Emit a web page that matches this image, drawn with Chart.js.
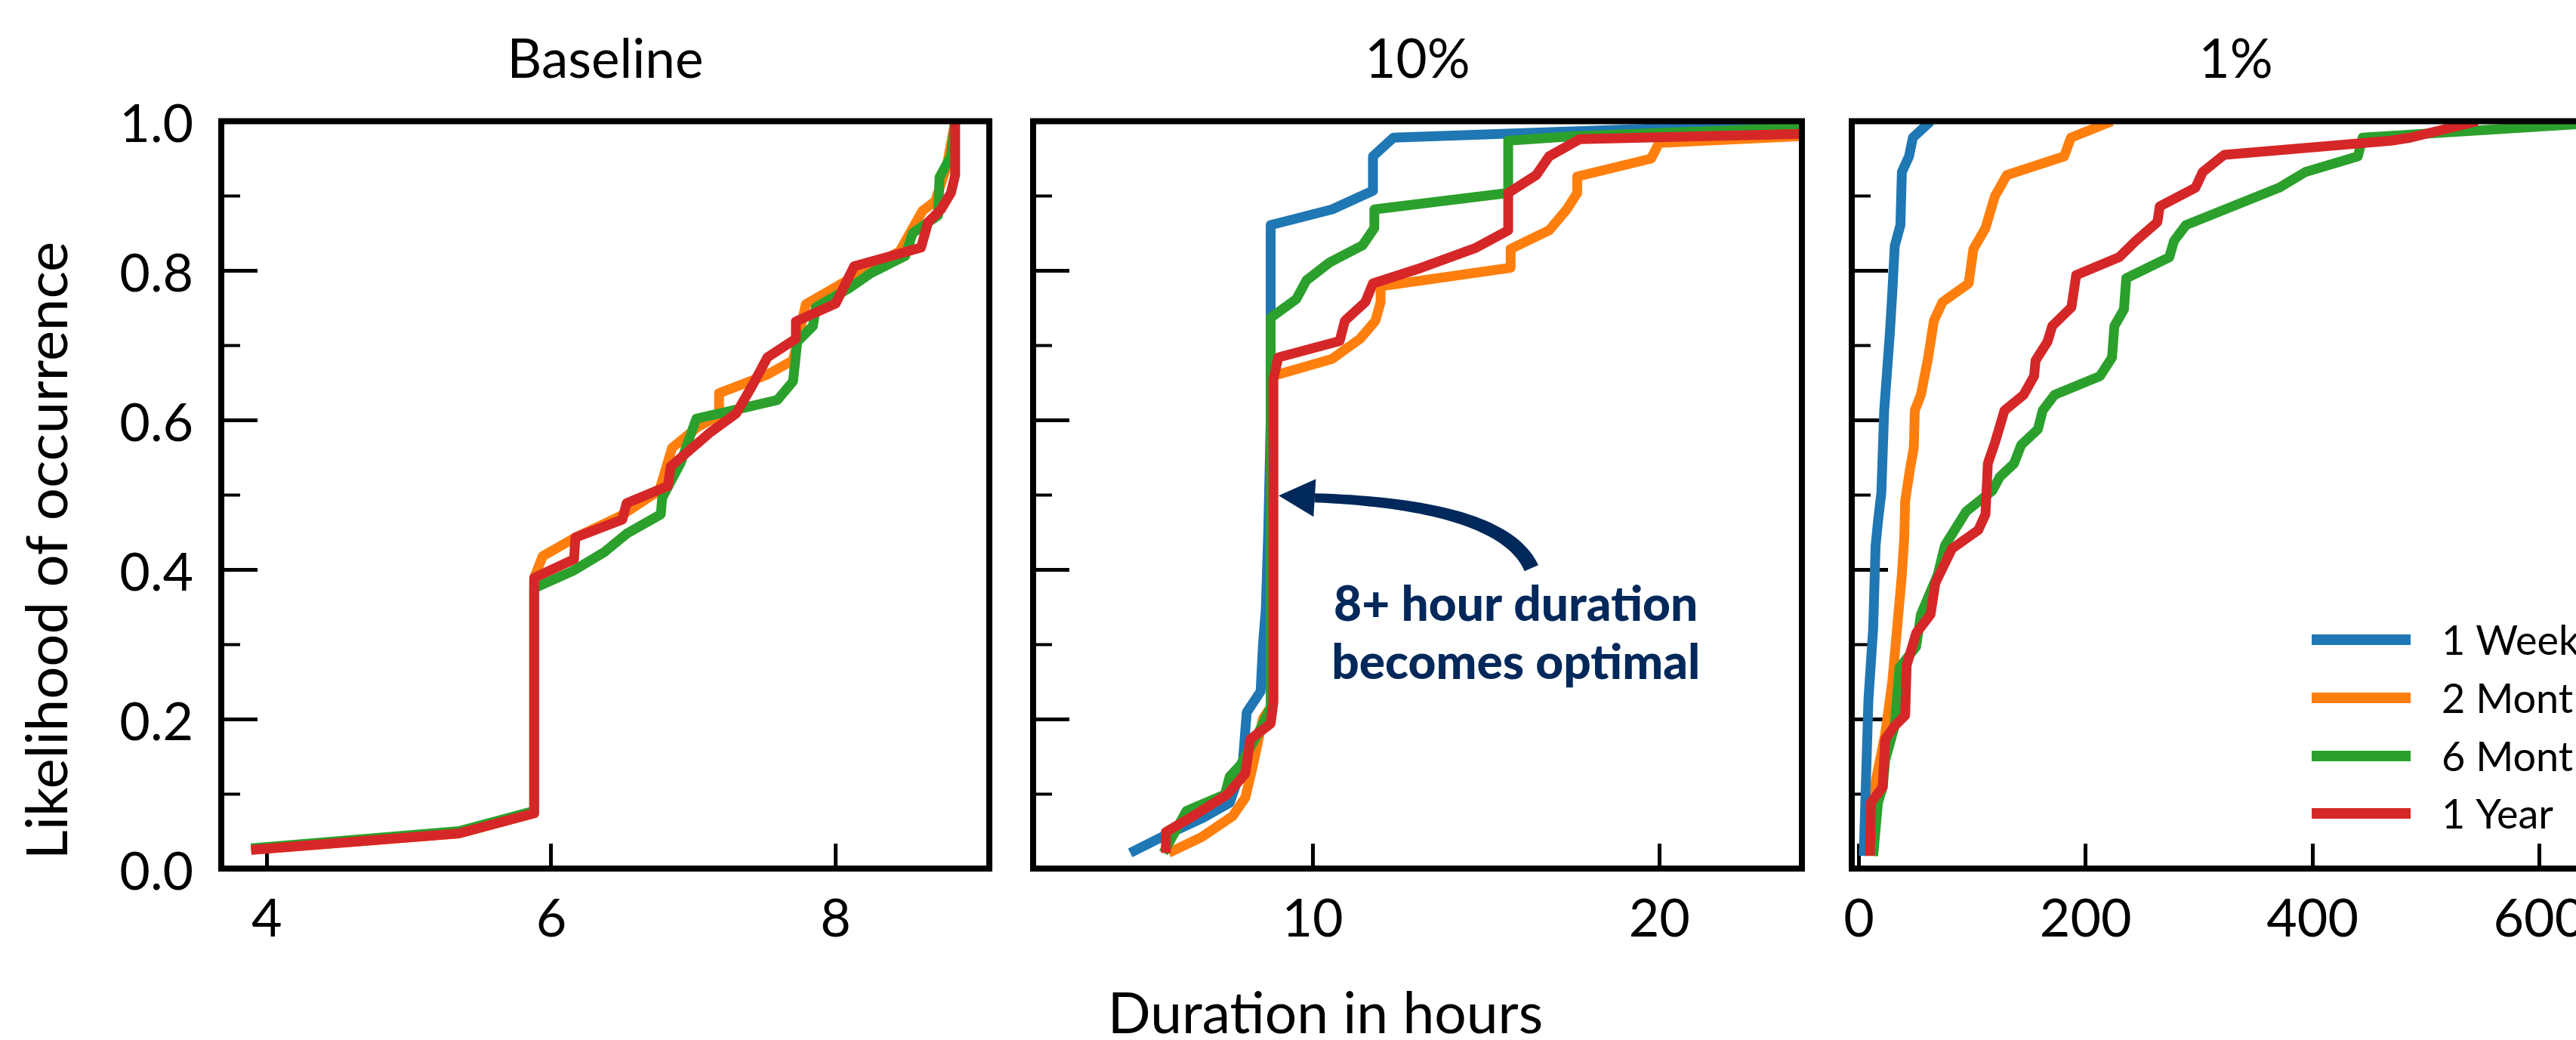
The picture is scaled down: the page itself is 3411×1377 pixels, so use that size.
<!DOCTYPE html>
<html><head><meta charset="utf-8">
<script src="https://cdn.jsdelivr.net/npm/chart.js@4.4.1/dist/chart.umd.min.js"></script>
<style>
html,body{margin:0;padding:0;background:#fff;overflow:hidden;width:3411px;height:1377px;}
canvas{position:absolute;left:0;top:0;}
</style></head><body>
<canvas id="c1" width="3500" height="1377"></canvas>
<canvas id="c2" width="3500" height="1377"></canvas>
<canvas id="c3" width="3500" height="1377"></canvas>
<script>
// ---------------- data ----------------
const seriesNames = ['1 Week', '2 Months', '6 Months', '1 Year'];
const panelTitles = ['Baseline', '10%', '1%'];
const yMajorTicks = [0, 0.2, 0.4, 0.6, 0.8, 1.0];
const yMinorTicks = [0, 0.1, 0.2, 0.3, 0.4, 0.5, 0.6, 0.7, 0.8, 0.9, 1.0];
const xTicksBaseline = [4, 6, 8];
const xTicks10 = [10, 20];
const xTicks1 = [0, 200, 400, 600];

// Baseline panel  [hours, likelihood]
const baseWeek = [];
const baseTwoMonths = [[3.89,0.025],[5.35,0.047],[5.88,0.074],[5.88,0.389],[5.94,0.418],[6.17,0.443],[6.48,0.471],[6.76,0.506],[6.85,0.563],[7.03,0.591],[7.18,0.606],[7.18,0.636],[7.52,0.661],[7.70,0.680],[7.79,0.755],[8.08,0.787],[8.45,0.826],[8.61,0.880],[8.70,0.893],[8.78,0.939],[8.84,1.0]];
const baseSixMonths = [[3.89,0.027],[5.35,0.050],[5.88,0.077],[5.88,0.375],[6.15,0.398],[6.37,0.423],[6.53,0.448],[6.77,0.474],[6.78,0.496],[6.91,0.543],[7.02,0.602],[7.30,0.614],[7.59,0.627],[7.70,0.652],[7.73,0.705],[7.84,0.726],[7.86,0.751],[8.09,0.776],[8.25,0.797],[8.49,0.820],[8.54,0.850],[8.72,0.874],[8.73,0.925],[8.81,0.953],[8.84,1.0]];
const baseYear = [[3.89,0.025],[5.35,0.047],[5.88,0.074],[5.88,0.389],[6.16,0.414],[6.17,0.443],[6.50,0.467],[6.53,0.489],[6.82,0.512],[6.84,0.538],[7.12,0.584],[7.30,0.609],[7.41,0.645],[7.52,0.684],[7.72,0.709],[7.72,0.732],[8.00,0.756],[8.13,0.806],[8.36,0.818],[8.60,0.831],[8.65,0.865],[8.74,0.882],[8.81,0.904],[8.84,0.928],[8.84,1.0]];

// 10% panel
const tenWeek = [[4.74,0.021],[5.77,0.045],[6.80,0.067],[7.61,0.088],[7.98,0.138],[8.10,0.209],[8.50,0.237],[8.57,0.301],[8.65,0.347],[8.72,0.45],[8.79,0.60],[8.79,0.861],[10.56,0.882],[11.74,0.907],[11.74,0.953],[12.33,0.978],[23.4,0.996],[25,1.0]];
const tenTwoMonths = [[5.85,0.021],[6.80,0.042],[7.69,0.070],[8.06,0.095],[8.28,0.138],[8.57,0.201],[8.84,0.219],[8.84,0.659],[10.56,0.682],[11.37,0.709],[11.81,0.733],[11.96,0.758],[11.96,0.779],[15.71,0.804],[15.71,0.829],[16.82,0.854],[17.33,0.882],[17.63,0.904],[17.63,0.926],[19.76,0.950],[19.99,0.971],[25,0.982]];
const tenSixMonths = [[5.70,0.021],[6.36,0.077],[7.47,0.099],[7.61,0.123],[7.91,0.138],[8.42,0.180],[8.79,0.216],[8.79,0.737],[9.53,0.762],[9.82,0.787],[10.49,0.811],[11.44,0.834],[11.78,0.857],[11.78,0.882],[15.64,0.904],[15.64,0.974],[17.55,0.980],[25,0.993]];
const tenYear = [[5.77,0.021],[5.77,0.049],[6.44,0.067],[7.54,0.099],[8.06,0.127],[8.20,0.173],[8.79,0.194],[8.87,0.223],[8.87,0.655],[9.01,0.684],[10.78,0.706],[10.93,0.733],[11.52,0.758],[11.74,0.783],[13.14,0.804],[14.68,0.830],[15.64,0.854],[15.64,0.904],[16.45,0.928],[16.82,0.953],[17.70,0.976],[25,0.984]];

// 1% panel
const oneWeek = [[4.2,0.017],[8.4,0.226],[12.6,0.322],[14.7,0.432],[16.8,0.464],[19.8,0.503],[22.3,0.613],[27.4,0.719],[29.5,0.772],[31.6,0.833],[36.6,0.861],[37.9,0.932],[44.2,0.953],[47.6,0.978],[63.2,1.0]];
const oneTwoMonths = [[12.6,0.017],[14.7,0.116],[23.2,0.180],[29.5,0.251],[33.7,0.322],[37.9,0.393],[40.0,0.443],[40.8,0.492],[45.1,0.535],[48.4,0.563],[49.3,0.613],[54.7,0.634],[61.1,0.684],[66.1,0.733],[73.7,0.758],[96.8,0.783],[101,0.829],[111.6,0.857],[120,0.900],[130.5,0.928],[181,0.953],[187,0.978],[223,1.0]];
const oneSixMonths = [[12.6,0.017],[16.8,0.088],[21,0.109],[23.2,0.145],[31.6,0.191],[35.8,0.269],[50.5,0.297],[54.7,0.340],[69.5,0.393],[75.8,0.432],[94.7,0.478],[117.9,0.506],[124.2,0.524],[136.8,0.542],[143.2,0.567],[157.9,0.588],[162.1,0.613],[172.6,0.634],[212.6,0.659],[223.2,0.684],[225.3,0.726],[233.7,0.748],[235.8,0.790],[273.7,0.818],[277.9,0.840],[288.4,0.861],[370.5,0.911],[393.7,0.932],[440,0.953],[444.2,0.978],[633,0.996],[700,1.0]];
const oneYear = [[9.7,0.017],[10.5,0.088],[21,0.109],[23.2,0.173],[31.6,0.191],[40.8,0.205],[42.1,0.272],[50.5,0.315],[63.2,0.340],[67.4,0.382],[82.1,0.428],[105.3,0.453],[111.6,0.474],[113.7,0.542],[120,0.570],[128.4,0.613],[145.3,0.634],[154.5,0.659],[155.8,0.680],[166.3,0.705],[170.5,0.726],[187.4,0.751],[191.6,0.794],[229.5,0.818],[244.2,0.840],[263.2,0.865],[265.3,0.886],[296.8,0.911],[303.2,0.932],[322.1,0.955],[469.5,0.974],[486.3,0.978],[545.3,1.0]];

// ---------------- styling / layout ----------------
const COLORS = ['#1f77b4', '#ff7f0e', '#2ca02c', '#d62728'];
const NAVY = '#00285a';
const FONT = 'Lato, "Open Sans", sans-serif';
const CW = 3500, CH = 1377, TOP = 160.5, BOTTOM = 1150;

const panels = [
  { id: 'c1', left: 293,  right: 1310, xmin: 3.68, xmax: 9.08, xticks: xTicksBaseline, series: [baseWeek, baseTwoMonths, baseSixMonths, baseYear], labels: true },
  { id: 'c2', left: 1368, right: 2386, xmin: 1.94, xmax: 24.11, xticks: xTicks10, series: [tenWeek, tenTwoMonths, tenSixMonths, tenYear], labels: false },
  { id: 'c3', left: 2452, right: 3469, xmin: -6.3, xmax: 671, xticks: xTicks1, series: [oneWeek, oneTwoMonths, oneSixMonths, oneYear], labels: false }
];

function frameAndText(idx) {
  return {
    id: 'frame' + idx,
    afterDraw(chart) {
      const ctx = chart.ctx, a = chart.chartArea;
      ctx.save();
      ctx.strokeStyle = '#000';
      ctx.lineWidth = 8;
      ctx.lineJoin = 'miter';
      ctx.strokeRect(a.left, a.top, a.right - a.left, a.bottom - a.top);
      // panel title
      ctx.fillStyle = '#000';
      ctx.font = '71px ' + FONT;
      ctx.textAlign = 'center';
      ctx.textBaseline = 'alphabetic';
      ctx.fillText(panelTitles[idx], (a.left + a.right) / 2, 103);

      if (idx === 0) {
        // y label
        ctx.save();
        ctx.font = '76px ' + FONT;
        ctx.translate(89, 729);
        ctx.rotate(-Math.PI / 2);
        ctx.textAlign = 'center';
        ctx.fillText('Likelihood of occurrence', 0, 0);
        ctx.restore();
        // x label (figure level)
        ctx.font = '75px ' + FONT;
        ctx.textAlign = 'center';
        ctx.fillText('Duration in hours', 1755, 1368);
      }
      if (idx === 1) {
        const xs = chart.scales.x, ys = chart.scales.y;
        const P = (x, y) => [xs.getPixelForValue(x), ys.getPixelForValue(y)];
        const tip = P(9.02, 0.499), base = P(10.06, 0.496), ctrl = P(15.49, 0.487), tail = P(16.31, 0.402);
        // tapered curved shaft
        const N = 40, left = [], right = [];
        for (let i = 0; i <= N; i++) {
          const t = i / N;
          const x = (1 - t) * (1 - t) * tail[0] + 2 * (1 - t) * t * ctrl[0] + t * t * base[0];
          const y = (1 - t) * (1 - t) * tail[1] + 2 * (1 - t) * t * ctrl[1] + t * t * base[1];
          const dx = 2 * (1 - t) * (ctrl[0] - tail[0]) + 2 * t * (base[0] - ctrl[0]);
          const dy = 2 * (1 - t) * (ctrl[1] - tail[1]) + 2 * t * (base[1] - ctrl[1]);
          const L = Math.hypot(dx, dy) || 1;
          const w = (20 * (1 - t) + 12 * t) / 2;
          const nx = -dy / L, ny = dx / L;
          left.push([x + nx * w, y + ny * w]);
          right.push([x - nx * w, y - ny * w]);
        }
        ctx.fillStyle = NAVY;
        ctx.beginPath();
        ctx.moveTo(left[0][0], left[0][1]);
        for (const p of left) ctx.lineTo(p[0], p[1]);
        for (let i = right.length - 1; i >= 0; i--) ctx.lineTo(right[i][0], right[i][1]);
        ctx.closePath();
        ctx.fill();
        // head
        const hx = tip[0] - base[0], hy = tip[1] - base[1];
        const HL = Math.hypot(hx, hy);
        const nx = -hy / HL, ny = hx / HL;
        ctx.beginPath();
        ctx.moveTo(tip[0], tip[1]);
        ctx.lineTo(base[0] + nx * 25, base[1] + ny * 25);
        ctx.lineTo(base[0] - nx * 25, base[1] - ny * 25);
        ctx.closePath();
        ctx.fill();
        // text
        ctx.font = '900 64px ' + FONT;
        ctx.textAlign = 'center';
        ctx.textBaseline = 'alphabetic';
        const t1 = P(15.86, 0.331), t2 = P(15.86, 0.254);
        ctx.fillText('8+ hour duration', t1[0], t1[1]);
        ctx.fillText('becomes optimal', t2[0], t2[1]);
      }
      if (idx === 2) {
        const rows = [847, 924, 1001, 1077];
        ctx.font = '54px ' + FONT;
        ctx.textAlign = 'left';
        ctx.textBaseline = 'alphabetic';
        for (let i = 0; i < 4; i++) {
          ctx.strokeStyle = COLORS[i];
          ctx.lineWidth = 14;
          ctx.lineCap = 'butt';
          ctx.beginPath();
          ctx.moveTo(3061, rows[i]);
          ctx.lineTo(3192, rows[i]);
          ctx.stroke();
          ctx.fillStyle = '#000';
          ctx.fillText(seriesNames[i], 3233, rows[i] + 20);
        }
      }
      ctx.restore();
    }
  };
}

function build() {
  Chart.defaults.font.family = FONT;
  panels.forEach((p, idx) => {
    const yW = idx === 0 ? 293 : 20;
    const datasets = p.series.map((pts, i) => ({
      label: seriesNames[i],
      data: pts.map(q => ({ x: q[0], y: q[1] })),
      borderColor: COLORS[i],
      backgroundColor: COLORS[i],
      borderWidth: 13,
      pointRadius: 0,
      tension: 0,
      fill: false,
      clip: 0,
      borderJoinStyle: 'round',
      borderCapStyle: 'butt',
      order: 3 - i
    }));
    new Chart(document.getElementById(p.id), {
      type: 'line',
      data: { datasets },
      options: {
        responsive: false,
        animation: false,
        events: [],
        devicePixelRatio: 1,
        layout: { padding: { left: p.left - yW, right: CW - p.right, top: TOP, bottom: 0 } },
        plugins: { legend: { display: false }, tooltip: { enabled: false }, title: { display: false } },
        scales: {
          x: {
            type: 'linear', position: 'bottom', min: p.xmin, max: p.xmax,
            afterFit: s => { s.height = CH - BOTTOM; },
            afterBuildTicks: s => { s.ticks = p.xticks.map(v => ({ value: v })); },
            grid: { drawOnChartArea: false, drawTicks: true, tickLength: -33, tickWidth: 5, tickColor: '#000' },
            border: { display: false },
            ticks: { color: '#000', font: { size: 70, family: FONT }, padding: 58, autoSkip: false, maxRotation: 0, minRotation: 0, callback: v => String(v) }
          },
          y: {
            type: 'linear', position: 'left', weight: 1, min: 0, max: 1,
            afterFit: s => { s.width = yW; },
            afterBuildTicks: s => { s.ticks = yMajorTicks.map(v => ({ value: v })); },
            grid: { drawOnChartArea: false, drawTicks: true, tickLength: -48, tickWidth: 5, tickColor: '#000' },
            border: { display: false },
            ticks: { color: '#000', font: { size: 70, family: FONT }, padding: 85, labelOffset: 5, autoSkip: false,
                     callback: v => p.labels ? Number(v).toFixed(1) : '' }
          },
          yMinor: {
            type: 'linear', position: 'left', weight: 0, min: 0, max: 1,
            afterFit: s => { s.width = 0; },
            afterBuildTicks: s => { s.ticks = yMinorTicks.map(v => ({ value: v })); },
            grid: { drawOnChartArea: false, drawTicks: true, tickLength: -25, tickWidth: 4, tickColor: '#000' },
            border: { display: false },
            ticks: { autoSkip: false, callback: () => '' }
          }
        }
      },
      plugins: [frameAndText(idx)]
    });
  });
}

let built = false;
function go() { if (!built) { built = true; build(); } }
if (document.fonts && document.fonts.load) {
  Promise.all([document.fonts.load('70px Lato'), document.fonts.load('900 64px Lato')]).then(go, go);
  setTimeout(go, 1500);
} else { go(); }
</script>
</body></html>
